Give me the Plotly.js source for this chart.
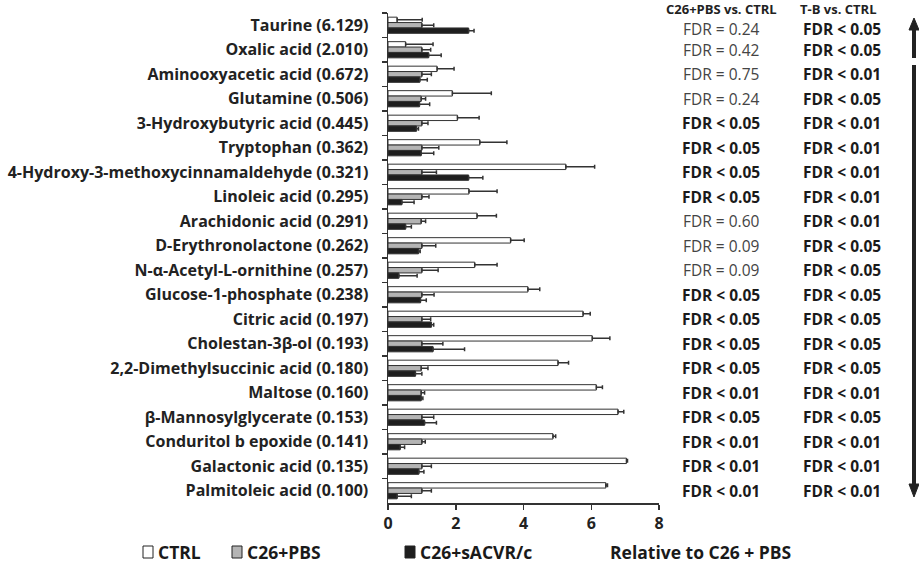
<!DOCTYPE html>
<html>
<head>
<meta charset="utf-8">
<script src="https://cdn.plot.ly/plotly-3.0.1.min.js"></script>
<style>html,body{margin:0;padding:0;background:#fff;}#chart{width:919px;height:570px;}</style>
</head>
<body>
<div id="chart"></div>
<script>
var categories = ["Taurine (6.129)","Oxalic acid (2.010)","Aminooxyacetic acid (0.672)","Glutamine (0.506)","3-Hydroxybutyric acid (0.445)","Tryptophan (0.362)","4-Hydroxy-3-methoxycinnamaldehyde (0.321)","Linoleic acid (0.295)","Arachidonic acid (0.291)","D-Erythronolactone (0.262)","N-\u03b1-Acetyl-L-ornithine (0.257)","Glucose-1-phosphate (0.238)","Citric acid (0.197)","Cholestan-3\u03b2-ol (0.193)","2,2-Dimethylsuccinic acid (0.180)","Maltose (0.160)","\u03b2-Mannosylglycerate (0.153)","Conduritol b epoxide (0.141)","Galactonic acid (0.135)","Palmitoleic acid (0.100)"];
var ctrl    = [0.27,0.52,1.45,1.90,2.05,2.71,5.25,2.39,2.63,3.62,2.56,4.13,5.76,6.03,5.02,6.15,6.79,4.87,7.04,6.43];
var ctrlErr = [0.74,0.81,0.50,1.15,0.64,0.80,0.85,0.83,0.57,0.40,0.66,0.35,0.21,0.52,0.31,0.18,0.17,0.08,0.03,0.05];
var pbs     = [1.00,1.00,1.00,0.98,1.00,1.00,1.00,1.00,0.98,1.00,1.00,1.00,1.00,1.00,0.98,0.98,1.00,1.00,1.00,1.00];
var pbsErr  = [0.35,0.26,0.28,0.13,0.18,0.50,0.43,0.21,0.13,0.41,0.48,0.36,0.26,0.62,0.20,0.10,0.35,0.10,0.28,0.28];
var sacvr   = [2.38,1.20,0.94,0.93,0.84,0.98,2.38,0.41,0.52,0.90,0.32,0.96,1.28,1.33,0.81,0.98,1.08,0.36,0.91,0.27];
var sacvrErr= [0.16,0.37,0.22,0.30,0.06,0.37,0.42,0.36,0.17,0.05,0.54,0.17,0.07,0.93,0.19,0.05,0.35,0.13,0.15,0.42];
var fdrPbs  = ["FDR = 0.24","FDR = 0.42","FDR = 0.75","FDR = 0.24","FDR < 0.05","FDR < 0.05","FDR < 0.05","FDR < 0.05","FDR = 0.60","FDR = 0.09","FDR = 0.09","FDR < 0.05","FDR < 0.05","FDR < 0.05","FDR < 0.05","FDR < 0.01","FDR < 0.05","FDR < 0.01","FDR < 0.01","FDR < 0.01"];
var fdrTB   = ["FDR < 0.05","FDR < 0.05","FDR < 0.01","FDR < 0.05","FDR < 0.01","FDR < 0.01","FDR < 0.01","FDR < 0.01","FDR < 0.01","FDR < 0.05","FDR < 0.05","FDR < 0.05","FDR < 0.05","FDR < 0.05","FDR < 0.05","FDR < 0.01","FDR < 0.05","FDR < 0.01","FDR < 0.01","FDR < 0.01"];
var seriesNames = ["CTRL","C26+PBS","C26+sACVR/c"];
var xTicks = [0,2,4,6,8];

var FONT = "Open Sans, Liberation Sans, sans-serif";
var W = 919, H = 570, L = 388, R = 659, T = 13, B = 503;
function px(x){ return (x - L) / (R - L); }
function py(y){ return (B - y) / (B - T); }

function zeros(n){ var a=[]; for(var i=0;i<n;i++) a.push(0); return a; }
function barTrace(name, vals, errs, fill){
  return {
    type: "bar", orientation: "h", name: name,
    x: vals, y: categories,
    marker: {color: fill, line: {color: "#333", width: 1}},
    error_x: {type: "data", symmetric: false, array: errs, arrayminus: zeros(vals.length),
              color: "#333", thickness: 1.5, width: 2},
    showlegend: false, hoverinfo: "x+name"
  };
}
var data = [
  barTrace(seriesNames[0], ctrl, ctrlErr, "#ffffff"),
  barTrace(seriesNames[1], pbs, pbsErr, "#b4b4b4"),
  barTrace(seriesNames[2], sacvr, sacvrErr, "#1e1e1e")
];

var annotations = [];
var shapes = [];
annotations.push({xref:"paper", yref:"paper", x:px(721), y:py(9), text:"C26+PBS vs. CTRL", showarrow:false,
  font:{family:FONT, size:13, color:"#222", weight:"bold"}, xanchor:"center", yanchor:"middle", borderpad:0});
annotations.push({xref:"paper", yref:"paper", x:px(838), y:py(9), text:"T-B vs. CTRL", showarrow:false,
  font:{family:FONT, size:13, color:"#222", weight:"bold"}, xanchor:"center", yanchor:"middle", borderpad:0});
for (var i = 0; i < categories.length; i++) {
  var sh = (i === 0) ? -4 : 0;
  var b1 = fdrPbs[i].indexOf("<") >= 0;
  annotations.push({xref:"paper", yref:"y", x:px(721), y:categories[i], yshift: sh, text:fdrPbs[i], showarrow:false,
    font:{family:FONT, size:15.5, color: b1 ? "#1a1a1a" : "#444", weight: b1 ? "bold" : "normal"},
    xanchor:"center", yanchor:"middle", borderpad:0});
  var b2 = fdrTB[i].indexOf("<") >= 0;
  annotations.push({xref:"paper", yref:"y", x:px(842), y:categories[i], yshift: sh, text:fdrTB[i], showarrow:false,
    font:{family:FONT, size:15.5, color: b2 ? "#1a1a1a" : "#444", weight: b2 ? "bold" : "normal"},
    xanchor:"center", yanchor:"middle", borderpad:0});
}
// legend (custom)
var legItems = [
  {x:143, fill:"#ffffff", text:seriesNames[0]},
  {x:232, fill:"#b4b4b4", text:seriesNames[1]},
  {x:405, fill:"#1e1e1e", text:seriesNames[2]}
];
legItems.forEach(function(it){
  shapes.push({type:"rect", xref:"paper", yref:"paper", x0:px(it.x), x1:px(it.x+10), y0:py(558), y1:py(546),
    line:{color:"#222", width:1}, fillcolor:it.fill});
  annotations.push({xref:"paper", yref:"paper", x:px(it.x+13), y:py(552), text:it.text, showarrow:false,
    font:{family:FONT, size:17.5, color:"#1a1a1a", weight:"bold"}, xanchor:"left", yanchor:"middle"});
});
annotations.push({xref:"paper", yref:"paper", x:px(608), y:py(552), text:"Relative to C26 + PBS", showarrow:false,
  font:{family:FONT, size:17.5, color:"#1a1a1a", weight:"bold"}, xanchor:"left", yanchor:"middle"});

// arrows
var ax = 914;
shapes.push({type:"line", xref:"paper", yref:"paper", x0:px(ax), x1:px(ax), y0:py(58), y1:py(28), line:{color:"#222", width:4}});
shapes.push({type:"path", xref:"paper", yref:"paper",
  path:"M "+px(ax-5)+" "+py(30)+" L "+px(ax+5)+" "+py(30)+" L "+px(ax)+" "+py(18)+" Z",
  fillcolor:"#222", line:{color:"#222", width:1}});
shapes.push({type:"line", xref:"paper", yref:"paper", x0:px(ax), x1:px(ax), y0:py(65), y1:py(486), line:{color:"#222", width:4}});
shapes.push({type:"path", xref:"paper", yref:"paper",
  path:"M "+px(ax-5)+" "+py(484)+" L "+px(ax+5)+" "+py(484)+" L "+px(ax)+" "+py(497)+" Z",
  fillcolor:"#222", line:{color:"#222", width:1}});

var layout = {
  width: W, height: H,
  margin: {l: L, r: W - R, t: T, b: H - B, pad: 0, autoexpand: false},
  paper_bgcolor: "#fff", plot_bgcolor: "#fff",
  barmode: "group", bargap: 0.34, bargroupgap: 0,
  showlegend: false,
  xaxis: {range: [0, 8], autorange: false, tickvals: xTicks, ticks: "outside", ticklen: 5, tickwidth: 1.5, tickcolor: "#333",
          showline: true, linecolor: "#333", linewidth: 1.5, showgrid: false, zeroline: false, automargin: false,
          tickfont: {family: FONT, size: 16, color: "#222", weight: "bold"}},
  yaxis: {type: "category", categoryorder: "array", categoryarray: categories,
          range: [categories.length - 0.5, -0.5], autorange: false,
          ticks: "outside", tickson: "boundaries", ticklen: 5,
          tickwidth: 1.5, tickcolor: "#333", showline: true, linecolor: "#333", linewidth: 1.5,
          showgrid: false, zeroline: false, ticklabelstandoff: 15, automargin: false,
          tickfont: {family: FONT, size: 16, color: "#222", weight: "bold"}},
  annotations: annotations,
  shapes: shapes
};
Plotly.newPlot("chart", data, layout, {displayModeBar: false, staticPlot: true});
</script>
</body>
</html>
